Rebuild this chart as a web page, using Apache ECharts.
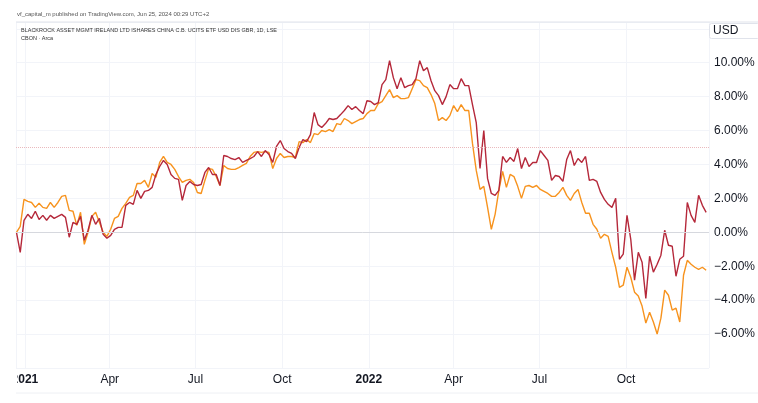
<!DOCTYPE html>
<html>
<head>
<meta charset="utf-8">
<script src="https://cdn.jsdelivr.net/npm/echarts@6/dist/echarts.min.js"></script>
<style>
  html, body { margin: 0; padding: 0; background: #fff; }
  #chart1 { width: 758px; height: 403px; }
</style>
</head>
<body>
<div id="chart1"></div>
<script>
// sample dates: every 4 calendar days starting 2020-12-23
var startYear = 2020, startMonth = 11, startDay = 23, stepDays = 4;

// % change, CBON (orange)
var cbonPct = [
  0.00, 0.35, 1.94, 1.82, 1.76, 1.47, 1.71, 1.47, 1.41, 1.76,
  1.47, 1.76, 2.12, 2.18, 1.29, 1.24, 0.41, 1.18, -0.71, 0.00,
  0.94, 1.18, 0.59, 0.00, -0.24, 0.18, 0.82, 0.94, 1.41, 1.71,
  2.06, 2.18, 2.88, 2.88, 3.06, 2.65, 3.47, 3.24, 4.12, 4.47,
  4.12, 4.00, 3.71, 3.29, 2.94, 3.06, 3.12, 2.94, 2.35, 2.29,
  3.06, 3.76, 3.71, 3.29, 2.76, 3.94, 3.76, 3.71, 3.71, 3.82,
  3.94, 4.06, 4.47, 4.71, 4.76, 4.71, 4.76, 4.71, 3.76, 4.35,
  4.65, 4.41, 4.47, 4.47, 4.41, 5.35, 5.29, 5.47, 5.29, 5.82,
  5.76, 6.00, 5.94, 6.06, 5.94, 6.41, 6.35, 6.71, 6.59, 6.41,
  6.53, 6.65, 6.71, 7.00, 7.18, 7.18, 7.59, 7.71, 8.06, 8.41,
  7.94, 8.06, 7.88, 7.88, 7.94, 8.47, 9.00, 8.94, 8.65, 8.53,
  8.12, 7.59, 6.59, 6.76, 6.59, 6.88, 7.47, 7.12, 7.53, 7.18,
  7.18, 5.24, 3.65, 2.53, 2.71, 1.47, 0.18, 1.06, 2.47, 3.59,
  2.65, 3.41, 3.29, 2.71, 2.00, 2.71, 2.76, 2.65, 2.76, 2.53,
  2.41, 2.29, 2.12, 2.12, 2.35, 2.65, 2.18, 1.88, 2.29, 2.53,
  1.76, 1.12, 1.12, 0.47, 0.18, -0.35, -0.12, -0.24, -1.18, -2.06,
  -3.24, -3.12, -2.06, -2.65, -3.53, -3.76, -4.35, -5.35, -4.71, -5.29,
  -6.00, -5.06, -3.41, -3.71, -4.59, -4.47, -5.29, -2.53, -1.65, -1.88,
  -2.06, -2.18, -2.06, -2.24
];

// % change, iShares China CB UCITS (red)
var ishPct = [
  0.00, -1.18, 0.71, 1.06, 0.82, 1.24, 0.76, 1.00, 0.71, 1.00,
  0.82, 0.94, 1.06, 0.88, -0.29, 0.59, 0.47, 0.94, -0.47, 0.12,
  1.00, 0.47, 0.82, -0.12, -0.35, -0.18, 0.18, 0.29, 0.29, 1.59,
  1.76, 1.65, 2.47, 2.00, 2.41, 2.47, 2.65, 3.41, 3.88, 4.24,
  4.00, 3.41, 3.18, 3.12, 1.88, 2.76, 3.00, 2.82, 2.76, 2.82,
  3.53, 3.82, 3.41, 3.41, 2.76, 4.53, 4.47, 4.35, 4.29, 4.41,
  4.12, 4.24, 4.35, 4.47, 4.76, 4.47, 4.82, 4.59, 4.12, 5.06,
  5.41, 4.94, 4.76, 4.65, 4.35, 5.00, 5.47, 5.35, 5.76, 7.06,
  6.35, 6.18, 6.41, 6.71, 6.65, 6.71, 6.94, 7.18, 7.47, 7.24,
  7.41, 7.18, 7.00, 7.76, 7.71, 7.53, 7.65, 8.71, 9.00, 10.12,
  9.12, 8.47, 9.12, 8.53, 8.65, 8.71, 9.06, 10.12, 9.53, 9.71,
  8.94, 8.35, 8.06, 7.53, 8.00, 8.71, 8.47, 8.47, 9.06, 8.65,
  8.65, 7.53, 6.47, 3.76, 6.00, 3.18, 2.29, 2.18, 2.47, 4.47,
  4.12, 4.41, 4.18, 4.94, 3.76, 4.41, 3.88, 4.12, 4.12, 4.82,
  4.53, 4.24, 3.06, 3.35, 3.29, 3.00, 4.29, 4.82, 3.94, 4.35,
  4.12, 4.47, 3.06, 3.12, 3.00, 2.35, 1.94, 1.65, 1.47, 2.00,
  -1.59, -1.29, 1.00, -0.41, -2.82, -1.18, -1.76, -3.90, -1.41, -2.35,
  -1.88, -1.35, 0.12, -0.76, -0.82, -2.59, -1.59, -1.41, 1.76, 1.00,
  0.59, 2.18, 1.59, 1.18
];

var yTicks = [-6, -4, -2, 0, 2, 4, 6, 8, 10];
var monthLabels = { 3: 'Apr', 6: 'Jul', 9: 'Oct' };

var dates = ishPct.map(function (v, i) {
  return new Date(startYear, startMonth, startDay + i * stepDays);
});

var myChart = echarts.init(document.getElementById('chart1'));

var font = 'Liberation Sans';

option = {
  animation: false,
  backgroundColor: '#ffffff',
  textStyle: { fontFamily: font },
  grid: { left: 16, right: 47, top: 22, bottom: 35 },
  xAxis: {
    type: 'time',
    min: new Date(2020, 11, 22, 12).getTime(),
    max: new Date(2022, 11, 28).getTime(),
    splitNumber: 8,
    axisLine: { show: false },
    axisTick: { show: false },
    splitLine: { show: true, lineStyle: { color: '#f2f4f9', width: 1 } },
    axisLabel: {
      color: '#131722',
      fontSize: 12,
      fontFamily: font,
      margin: 6,
      showMinLabel: false,
      showMaxLabel: false,
      formatter: function (value) {
        var d = new Date(value);
        if (d.getMonth() === 0) return '{yr|' + d.getFullYear() + '}';
        return monthLabels[d.getMonth()] || '';
      },
      rich: {
        yr: { fontWeight: 'bold', fontSize: 12, color: '#131722', fontFamily: font }
      }
    }
  },
  yAxis: {
    type: 'value',
    position: 'right',
    min: -8,
    max: 12.4,
    interval: 2,
    axisLine: { show: false },
    axisTick: { show: false },
    splitLine: { lineStyle: { color: '#f2f4f9', width: 1 } },
    axisLabel: {
      color: '#131722',
      fontSize: 12,
      fontFamily: font,
      margin: 5,
      formatter: function (v) {
        if (yTicks.indexOf(v) < 0) return '';
        return (v < 0 ? '\u2212' : '') + Math.abs(v).toFixed(2) + '%';
      }
    }
  },
  series: [
    {
      name: 'CBON',
      type: 'line',
      showSymbol: false,
      data: dates.map(function (d, i) { return [d, cbonPct[i]]; }),
      lineStyle: { color: '#f7931e', width: 1.4 },
      markLine: {
        silent: true,
        symbol: 'none',
        label: { show: false },
        data: [
          { yAxis: 0, lineStyle: { color: '#d6d8de', type: 'solid', width: 1 } },
          { yAxis: 5, lineStyle: { color: '#eab9bd', type: 'dotted', width: 1 } }
        ]
      }
    },
    {
      name: 'ISHARES CHINA C.B.',
      type: 'line',
      showSymbol: false,
      data: dates.map(function (d, i) { return [d, ishPct[i]]; }),
      lineStyle: { color: '#b5283a', width: 1.4 }
    }
  ],
  graphic: [
    { type: 'rect', shape: { x: 0, y: 369, width: 17, height: 22 }, style: { fill: '#ffffff' }, z: 100 },
    { type: 'line', shape: { x1: 16, y1: 22, x2: 758, y2: 22 }, style: { stroke: '#e0e3eb', lineWidth: 1 }, z: 100 },
    { type: 'line', shape: { x1: 16, y1: 393, x2: 758, y2: 393 }, style: { stroke: '#eef0f4', lineWidth: 1 }, z: 100 },
    { type: 'text', left: 17, top: 11, z: 100,
      style: { text: 'vf_capital_m published on TradingView.com, Jun 25, 2024 00:29 UTC+2', fill: '#555', font: '6px ' + font } },
    { type: 'text', left: 21, top: 27, z: 100,
      style: { text: 'BLACKROCK ASSET MGMT IRELAND LTD ISHARES CHINA C.B. UCITS ETF USD DIS GBR, 1D, LSE', fill: '#333', font: '5.5px ' + font } },
    { type: 'text', left: 21, top: 35, z: 100,
      style: { text: 'CBON \u00b7 Arca', fill: '#333', font: '5.5px ' + font } },
    { type: 'rect', shape: { x: 709.5, y: 23.5, width: 50, height: 15, r: 2 },
      style: { fill: '#ffffff', stroke: '#e0e3eb', lineWidth: 1 }, z: 100 },
    { type: 'text', left: 713, top: 25, z: 101,
      style: { text: 'USD', fill: '#131722', font: '12px ' + font } }
  ]
};

myChart.setOption(option);
</script>
</body>
</html>
